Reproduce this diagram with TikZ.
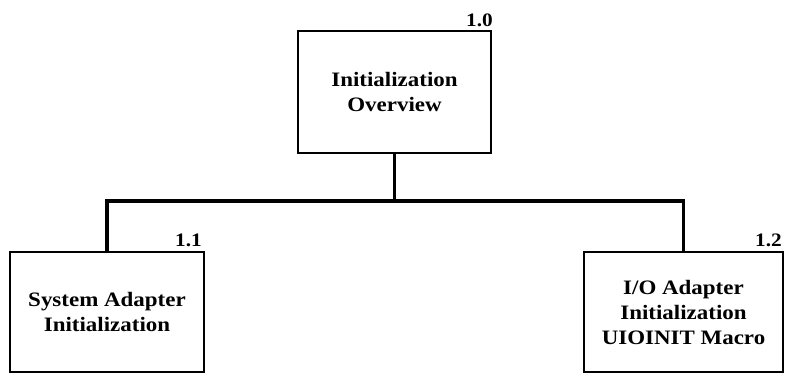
\documentclass[tikz,border=0pt]{standalone}
\usepackage{fontspec}
\setmainfont{Liberation Serif}[FakeStretch=1.12]
\begin{document}
\begin{tikzpicture}[x=1pt,y=-1pt,
  procbox/.style={draw, line width=2.8pt, rectangle, align=center, inner sep=0pt,
    font=\bfseries\fontsize{20.5}{25}\selectfont},
  numlabel/.style={anchor=base east, inner sep=0pt, font=\bfseries\fontsize{19}{20}\selectfont},
  link/.style={line width=3.2pt, line join=miter}]
\useasboundingbox (0,0) rectangle (788,375);
\node[procbox, minimum width=193pt, minimum height=122pt] (top) at (394.5,92) {Initialization\\Overview};
\node[procbox, minimum width=194pt, minimum height=120pt] (left) at (107,312) {System Adapter\\Initialization};
\node[procbox, minimum width=199pt, minimum height=120pt] (right) at (683.5,312) {I/O Adapter\\Initialization\\UIOINIT Macro};
\node[numlabel] (l10) at (493,26) {1.0};
\node[numlabel] (l11) at (202,246) {1.1};
\node[numlabel] (l12) at (782,246) {1.2};
\coordinate (j) at (top.south |- 0,201);
\draw[link] (top.south) -- (j);
\draw[link] (left.north) |- (j) -| (right.north);
\end{tikzpicture}
\end{document}
